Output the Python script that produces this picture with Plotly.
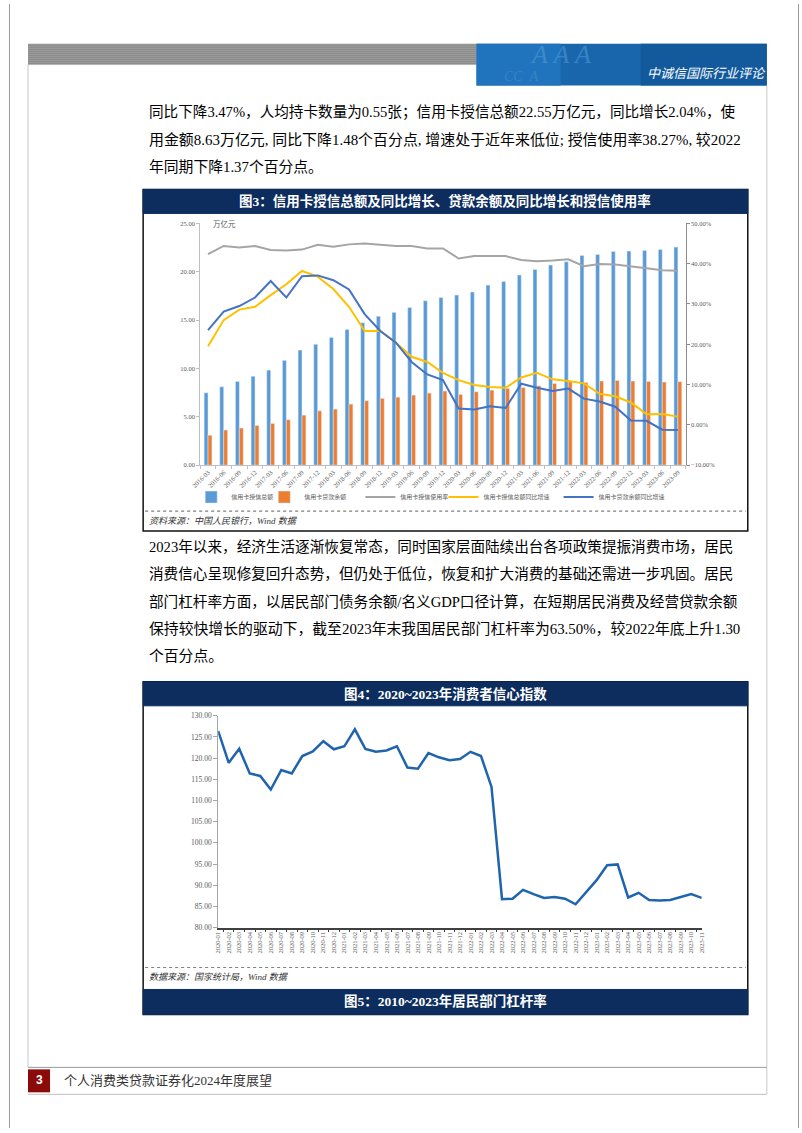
import plotly.graph_objects as go

W, H = 802, 1133

# ---------------- data: figure 3 ----------------
quarters = ["2016-03", "2016-06", "2016-09", "2016-12", "2017-03", "2017-06", "2017-09", "2017-12",
            "2018-03", "2018-06", "2018-09", "2018-12", "2019-03", "2019-06", "2019-09", "2019-12",
            "2020-03", "2020-06", "2020-09", "2020-12", "2021-03", "2021-06", "2021-09", "2021-12",
            "2022-03", "2022-06", "2022-09", "2022-12", "2023-03", "2023-06", "2023-09"]
credit_total = [7.48, 8.10, 8.66, 9.20, 9.83, 10.83, 11.90, 12.50, 13.20, 14.03, 14.72, 15.41,
                15.80, 16.30, 17.00, 17.34, 17.59, 17.90, 18.62, 19.00, 19.66, 20.24, 20.69, 21.03,
                21.69, 21.79, 22.10, 22.14, 22.20, 22.31, 22.55]
loan_balance = [3.10, 3.62, 3.83, 4.10, 4.31, 4.69, 5.17, 5.62, 5.79, 6.31, 6.66, 6.90,
                7.03, 7.24, 7.45, 7.66, 7.31, 7.59, 7.76, 7.93, 8.03, 8.20, 8.45, 8.69,
                8.55, 8.69, 8.76, 8.69, 8.66, 8.59, 8.63]
usage_rate = [42.4, 44.4, 44.0, 44.4, 43.4, 43.3, 43.5, 44.7, 44.2, 44.8, 45.0, 44.7,
              44.4, 44.4, 43.8, 43.8, 41.3, 41.9, 41.9, 41.9, 40.9, 40.6, 40.8, 41.1,
              39.4, 39.9, 39.8, 39.4, 38.9, 38.4, 38.27]
credit_yoy = [19.5, 26.0, 28.6, 29.3, 32.2, 34.9, 38.2, 36.8, 33.7, 29.3, 23.3, 23.3,
              20.4, 16.9, 15.6, 12.9, 11.1, 9.9, 9.4, 9.2, 11.75, 12.9, 11.3, 10.9,
              10.3, 7.7, 7.1, 5.55, 2.65, 2.7, 2.04]
loan_yoy = [23.5, 28.1, 29.5, 31.6, 35.7, 31.6, 36.9, 37.1, 35.9, 33.6, 27.5, 23.3,
            20.4, 15.6, 12.5, 11.1, 4.06, 3.8, 4.6, 4.2, 10.2, 9.2, 8.4, 9.0,
            6.5, 5.8, 4.5, 1.1, 1.0, -1.2, -1.3]
names3 = ["信用卡授信总额", "信用卡贷款余额", "信用卡授信使用率", "信用卡授信总额同比增速", "信用卡贷款余额同比增速"]

# ---------------- data: figure 4 ----------------
months = ["2020-01", "2020-02", "2020-03", "2020-04", "2020-05", "2020-06", "2020-07", "2020-08",
          "2020-09", "2020-10", "2020-11", "2020-12", "2021-01", "2021-02", "2021-03", "2021-04",
          "2021-05", "2021-06", "2021-07", "2021-08", "2021-09", "2021-10", "2021-11", "2021-12",
          "2022-01", "2022-02", "2022-03", "2022-04", "2022-05", "2022-06", "2022-07", "2022-08",
          "2022-09", "2022-10", "2022-11", "2022-12", "2023-01", "2023-02", "2023-03", "2023-04",
          "2023-05", "2023-06", "2023-07", "2023-08", "2023-09", "2023-10", "2023-11"]
cci = [126.4, 118.9, 122.2, 116.4, 115.8, 112.6, 117.2, 116.4, 120.5, 121.6, 124.0, 122.1,
       122.8, 126.8, 122.2, 121.5, 121.8, 122.8, 117.8, 117.5, 121.2, 120.2, 119.5, 119.8,
       121.5, 120.5, 113.2, 86.7, 86.8, 88.9, 87.9, 87.0, 87.2, 86.8, 85.5, 88.3,
       91.2, 94.7, 94.9, 87.1, 88.2, 86.5, 86.4, 86.5, 87.2, 87.9, 87.0]

# ---------------- page text ----------------
para1 = ["同比下降3.47%，人均持卡数量为0.55张；信用卡授信总额22.55万亿元，同比增长2.04%，使",
         "用金额8.63万亿元, 同比下降1.48个百分点, 增速处于近年来低位; 授信使用率38.27%, 较2022",
         "年同期下降1.37个百分点。"]
para2 = ["2023年以来，经济生活逐渐恢复常态，同时国家层面陆续出台各项政策提振消费市场，居民",
         "消费信心呈现修复回升态势，但仍处于低位，恢复和扩大消费的基础还需进一步巩固。居民",
         "部门杠杆率方面，以居民部门债务余额/名义GDP口径计算，在短期居民消费及经营贷款余额",
         "保持较快增长的驱动下，截至2023年末我国居民部门杠杆率为63.50%，较2022年底上升1.30",
         "个百分点。"]
title3 = "图3：信用卡授信总额及同比增长、贷款余额及同比增长和授信使用率"
title4 = "图4：2020~2023年消费者信心指数"
title5 = "图5：2010~2023年居民部门杠杆率"
source3 = "资料来源：中国人民银行，Wind 数据"
source4 = "数据来源：国家统计局，Wind 数据"
header_text = "中诚信国际行业评论"
footer_text = "个人消费类贷款证券化2024年度展望"
page_no = "3"

SERIF = "Liberation Serif, Noto Sans CJK SC, serif"
NAVY = "#0c2d5e"


def X(p):
    return ((p - 9.0) / 0.984) / W


def Y(p):
    return 1 - ((p - 3.3) / 0.9933) / H


shapes = []
annos = []


def rect(x0, y0, x1, y1, fill=None, color=None, width=0, dash=None, layer="above"):
    line = dict(width=width)
    if color:
        line["color"] = color
    if dash:
        line["dash"] = dash
    d = dict(type="rect", xref="paper", yref="paper", x0=X(x0), x1=X(x1), y0=Y(y1), y1=Y(y0),
             line=line, layer=layer)
    if fill:
        d["fillcolor"] = fill
    shapes.append(d)


def hline(x0, x1, y, color, width=1, dash=None):
    line = dict(color=color, width=width)
    if dash:
        line["dash"] = dash
    shapes.append(dict(type="line", xref="paper", yref="paper", x0=X(x0), x1=X(x1), y0=Y(y), y1=Y(y), line=line))


def vline(x, y0, y1, color, width=1):
    shapes.append(dict(type="line", xref="paper", yref="paper", x0=X(x), x1=X(x), y0=Y(y0), y1=Y(y1),
                       line=dict(color=color, width=width)))


def text(x, y, s, size=15, color="#000", xanchor="left", family=SERIF, bold=False, italic=False, opacity=1):
    if bold:
        s = "<b>" + s + "</b>"
    if italic:
        s = "<i>" + s + "</i>"
    annos.append(dict(xref="paper", yref="paper", x=X(x), y=Y(y), text=s, showarrow=False,
                      xanchor=xanchor, yanchor="middle", font=dict(size=size, color=color, family=family),
                      opacity=opacity))


# page borders (true page edges)
for ex in (0.5 / W, 801.5 / W):
    shapes.append(dict(type="line", xref="paper", yref="paper", x0=ex, x1=ex, y0=0, y1=1,
                       line=dict(color="#9a9a9a", width=1)))
# inner margins
vline(28, 64, 1068, "#c8c8c8", 1)
vline(766, 85, 1095, "#c8c8c8", 1)

# header
rect(28, 43, 476, 64, fill="#8c8c8c")
for k in range(11):
    hline(28, 476, 44 + 2 * k, "#a6a6a6", 0.6)
rect(476, 43, 766, 85, fill="#1a66ad")
rect(476, 43, 560, 85, fill="#1f74bd")
rect(640, 43, 766, 85, fill="#135a9d")
text(560, 54, "A A A", size=26, color="#5ea6e0", xanchor="center", family="Liberation Serif", italic=True, opacity=0.45)
text(520, 76, "CC  A", size=14, color="#4f93cc", xanchor="center", family="Liberation Serif", italic=True, opacity=0.5)
text(767, 72, header_text, size=13, color="#ffffff", xanchor="right", family="Noto Sans CJK SC", italic=True)

# paragraphs (per-line sizes approximate the justified line widths)
p1_sizes = [14.6, 14.95, 14.8]
p2_sizes = [14.62, 14.62, 14.62, 14.85, 14.8]
for i, s in enumerate(para1):
    text(147, 112 + 27.2 * i, s, size=p1_sizes[i])
for i, s in enumerate(para2):
    text(147, 546.5 + 27.4 * i, s, size=p2_sizes[i])

# figure 3 frame
rect(143, 189, 747, 531, color="#111111", width=1.5)
rect(143, 189, 747, 213, fill=NAVY, color=NAVY, width=1)
text(445, 201, title3, size=13.5, color="#ffffff", xanchor="center", bold=True)
hline(145, 745, 511, "#7f7f7f", 1.2, "dot")
text(147, 521, source3, size=9, color="#333333", italic=True)
text(211, 224, "万亿元", size=7.5, color="#595959")

# figure 4 frame
rect(143, 682, 747, 1015, color="#111111", width=1.5)
rect(143, 682, 747, 706, fill=NAVY, color=NAVY, width=1)
text(445, 694, title4, size=13.5, color="#ffffff", xanchor="center", bold=True)
hline(145, 745, 968, "#7f7f7f", 1.2, "dot")
text(147, 978, source4, size=9, color="#333333", italic=True)
rect(143, 990, 747, 1015, fill=NAVY, color=NAVY, width=1)
text(445, 1002, title5, size=13.5, color="#ffffff", xanchor="center", bold=True)

# footer
hline(28, 766, 1068, "#9a9a9a", 1)
hline(28, 766, 1095, "#c0c0c0", 1)
rect(28, 1070, 50, 1093, fill="#8b0b0b")
text(39, 1081, page_no, size=12, color="#ffffff", xanchor="center", family="Liberation Sans", bold=True)
text(62, 1081, footer_text, size=13, color="#333333")

fig = go.Figure()
fig.add_bar(x=quarters, y=credit_total, name=names3[0], marker_color="#5b9bd5", xaxis="x", yaxis="y", legend="legend")
fig.add_bar(x=quarters, y=loan_balance, name=names3[1], marker_color="#ed7d31", xaxis="x", yaxis="y", legend="legend2")
fig.add_scatter(x=quarters, y=usage_rate, name=names3[2], mode="lines", line=dict(color="#a5a5a5", width=2),
                xaxis="x", yaxis="y2", legend="legend3")
fig.add_scatter(x=quarters, y=credit_yoy, name=names3[3], mode="lines", line=dict(color="#ffc000", width=2),
                xaxis="x", yaxis="y2", legend="legend4")
fig.add_scatter(x=quarters, y=loan_yoy, name=names3[4], mode="lines", line=dict(color="#4472c4", width=2),
                xaxis="x", yaxis="y2", legend="legend5")
fig.add_scatter(x=months, y=cci, name="消费者信心指数", mode="lines", line=dict(color="#1f64ad", width=2.5),
                xaxis="x2", yaxis="y3", showlegend=False)

tickf = dict(size=6.5, color="#595959", family=SERIF)
leg_common = dict(orientation="h", yanchor="middle", y=Y(497), xanchor="left", bgcolor="rgba(0,0,0,0)",
                  font=dict(size=6, color="#595959", family=SERIF), itemwidth=30, tracegroupgap=0)
legend_x = [227, 300, 396, 479, 594]
legs = {}
for i, key in enumerate(["legend", "legend2", "legend3", "legend4", "legend5"]):
    d = dict(leg_common)
    d["x"] = X(legend_x[i] - 36)
    legs[key] = d

fig.update_layout(
    width=W, height=H, margin=dict(l=0, r=0, t=0, b=0),
    paper_bgcolor="#ffffff", plot_bgcolor="#ffffff",
    barmode="group", bargap=0.5, bargroupgap=0,
    xaxis=dict(domain=[X(200), X(685)], anchor="y", type="category", tickangle=-45, tickfont=tickf,
               showline=True, linecolor="#bfbfbf", ticks="outside", ticklen=3, tickcolor="#bfbfbf",
               tickson="boundaries", showgrid=False, zeroline=False),
    yaxis=dict(domain=[Y(465), Y(223)], range=[0, 25], dtick=5, tickformat=".2f", tickfont=tickf,
               showline=True, linecolor="#bfbfbf", ticks="outside", ticklen=3, tickcolor="#bfbfbf",
               showgrid=False, zeroline=False),
    yaxis2=dict(overlaying="y", side="right", anchor="x", range=[-10, 50], dtick=10, tickformat=".2f",
                ticksuffix="%", tickfont=tickf, showline=True, linecolor="#8c8c8c", ticks="outside",
                ticklen=3, tickcolor="#8c8c8c", showgrid=False, zeroline=False),
    xaxis2=dict(domain=[X(218), X(701)], anchor="y3", type="category", tickangle=-90,
                tickfont=dict(size=6.5, color="#595959", family=SERIF), showline=True, linecolor="#404040",
                linewidth=1.5, ticks="outside", ticklen=3, tickcolor="#404040", tickson="boundaries",
                showgrid=False, zeroline=False),
    yaxis3=dict(domain=[Y(928), Y(716)], anchor="x2", range=[80, 130], dtick=5, tickformat=".2f",
                tickfont=dict(size=7.5, color="#595959", family=SERIF), showline=True, linecolor="#a6a6a6",
                ticks="outside", ticklen=4, tickcolor="#a6a6a6", showgrid=False, zeroline=False),
    shapes=shapes, annotations=annos,
    **legs,
)

fig.write_html("out.html", config={"displayModeBar": False},
               post_script="document.body.style.margin='0';document.body.style.overflow='hidden';")
